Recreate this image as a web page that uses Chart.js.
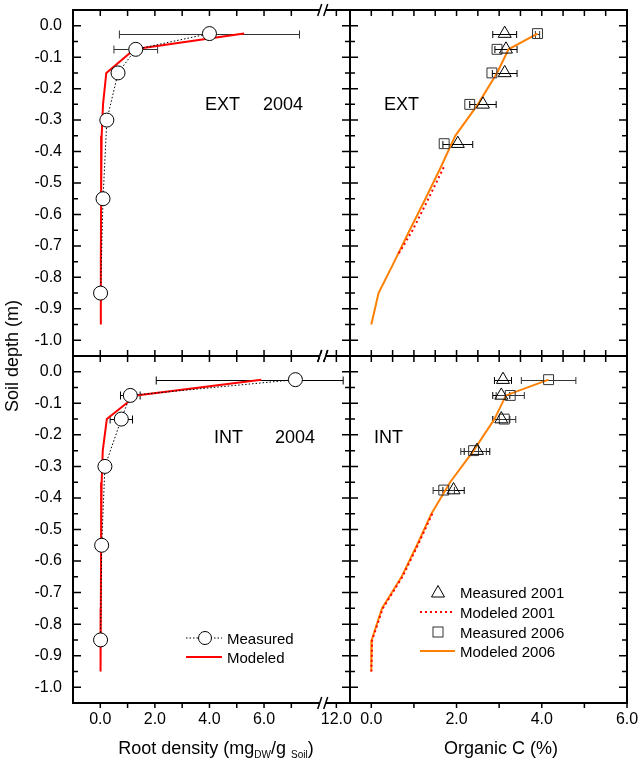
<!DOCTYPE html>
<html>
<head>
<meta charset="utf-8">
<title>Root density and organic C profiles</title>
<script src="https://cdn.jsdelivr.net/npm/chart.js@4.4.1/dist/chart.umd.min.js"></script>
<style>
  html, body { margin: 0; padding: 0; background: #fff; }
  #wrap { position: relative; width: 644px; height: 761px; overflow: hidden;
          font-family: 'Liberation Sans', Arial, sans-serif; color: #000; }
  #wrap canvas { position: absolute; left: 0; top: 0; }
  .txt { position: absolute; white-space: nowrap; line-height: 1; transform: translateY(-50%); }
  .ctr { transform: translate(-50%, -50%); }
  .note { font-size: 18px; }
  .leg { font-size: 15px; }
  .title { font-size: 18px; }
  sub { font-size: 10px; vertical-align: -4px; line-height: 0; }
  svg { position: absolute; overflow: visible; }
</style>
</head>
<body>
<div id="wrap">
  <canvas id="chartTL" width="644" height="761"></canvas>
  <canvas id="chartTR" width="644" height="761"></canvas>
  <canvas id="chartBL" width="644" height="761"></canvas>
  <canvas id="chartBR" width="644" height="761"></canvas>

  <!-- panel notes -->
  <div class="txt note" style="left:205px; top:104px">EXT</div>
  <div class="txt note" style="left:263px; top:104px">2004</div>
  <div class="txt note" style="left:384px; top:104px">EXT</div>
  <div class="txt note" style="left:214px; top:437px">INT</div>
  <div class="txt note" style="left:275px; top:437px">2004</div>
  <div class="txt note" style="left:374px; top:437px">INT</div>

  <!-- legends -->
  <svg style="left:180px; top:626px" width="50" height="40">
    <line x1="6" y1="12" x2="42" y2="12" stroke="#000" stroke-width="1" stroke-dasharray="1.5 2"/>
    <circle cx="25" cy="12" r="6.5" fill="#fff" stroke="#000" stroke-width="1"/>
    <line x1="6" y1="31" x2="42" y2="31" stroke="#f00" stroke-width="2"/>
  </svg>
  <div class="txt leg" style="left:227px; top:638px">Measured</div>
  <div class="txt leg" style="left:227px; top:657px">Modeled</div>

  <svg style="left:415px; top:580px" width="45" height="80">
    <polygon points="23,5.5 16.5,17 29.5,17" fill="none" stroke="#000" stroke-width="1"/>
    <line x1="5" y1="32" x2="40" y2="32" stroke="#f00" stroke-width="2" stroke-dasharray="2 3"/>
    <rect x="18" y="47" width="10" height="10" fill="none" stroke="#333" stroke-width="1"/>
    <line x1="5" y1="71" x2="40" y2="71" stroke="#ff8000" stroke-width="2"/>
  </svg>
  <div class="txt leg" style="left:460px; top:592px">Measured 2001</div>
  <div class="txt leg" style="left:460px; top:612px">Modeled 2001</div>
  <div class="txt leg" style="left:460px; top:632px">Measured 2006</div>
  <div class="txt leg" style="left:460px; top:651px">Modeled 2006</div>

  <!-- axis titles -->
  <div class="txt title ctr" style="left:12px; top:356px; transform: translate(-50%, -50%) rotate(-90deg)">Soil depth (m)</div>
  <div class="txt title ctr" style="left:216px; top:748px">Root density (mg<sub>DW</sub>/g <sub>Soil</sub>)</div>
  <div class="txt title ctr" style="left:501px; top:748px">Organic C (%)</div>
</div>

<script>
// ---------- data ----------
// root density, measured (circles) at sampling depths
var depthRoot = [-0.025, -0.075, -0.15, -0.30, -0.55, -0.85];
var extRootMeas = [4.0, 1.3, 0.65, 0.24, 0.10, 0.01];
var extRootErr = [3.3, 0.8, 0.18, 0.10, 0, 0];
var intRootMeas = [7.15, 1.10, 0.77, 0.17, 0.05, 0.01];
var intRootErr = [5.1, 0.36, 0.41, 0.10, 0, 0];

// root density, modeled
var depthRootModel = [-0.025, -0.075, -0.15, -0.25, -0.35, -0.55, -0.75, -0.95];
var extRootModel = [5.27, 1.25, 0.22, 0.10, 0.05, 0.03, 0.02, 0.02];
var intRootModel = [5.9, 1.32, 0.24, 0.09, 0.05, 0.03, 0.02, 0.01];

// organic C, measured
var depthC = [-0.025, -0.075, -0.15, -0.25, -0.375];
var extC2001 = [3.13, 3.16, 3.13, 2.62, 2.03];
var extC2001Err = [0.28, 0.26, 0.29, 0.31, 0.35];
var extC2006 = [3.90, 2.95, 2.83, 2.31, 1.71];
var extC2006Err = [0.05, 0, 0, 0, 0];
var intC2001 = [3.09, 3.05, 3.05, 2.48, 1.93];
var intC2001Err = [0.2, 0.2, 0.2, 0.3, 0.25];
var intC2006 = [4.16, 3.26, 3.12, 2.40, 1.70];
var intC2006Err = [0.64, 0.33, 0.27, 0.3, 0.25];

// organic C, modeled
var depthCModel = [-0.025, -0.075, -0.15, -0.25, -0.35, -0.45, -0.55, -0.65, -0.75, -0.85, -0.95];
var extC2006Model = [3.90, 3.22, 2.95, 2.50, 1.97, 1.63, 1.27, 0.90, 0.54, 0.17, 0.0];
var intC2006Model = [4.16, 3.16, 2.89, 2.40, 1.85, 1.41, 1.07, 0.71, 0.25, 0.01, 0.0];
var extDepth2001Model = [-0.45, -0.55, -0.65, -0.725];
var extC2001Model = [1.70, 1.34, 0.97, 0.64];
var intDepth2001Model = [-0.45, -0.55, -0.65, -0.75, -0.85, -0.95];
var intC2001Model = [1.43, 1.09, 0.73, 0.27, 0.02, 0.0];

// tick labels
var depthTicks = [0.0, -0.1, -0.2, -0.3, -0.4, -0.5, -0.6, -0.7, -0.8, -0.9, -1.0];
var rootTicks = [0, 2, 4, 6, 12];
var rootMarks = [0, 1, 2, 3, 4, 5, 6, 7, 12];
var carbonTicks = [0, 2, 4, 6];
var carbonMarks = [0, 1, 2, 3, 4, 5, 6];
var carbonHalfMarks = [0, 0.5, 1, 1.5, 2, 2.5, 3, 3.5, 4, 4.5, 5, 5.5];

// ---------- broken root-density axis (gap between ~8.2 and ~11.5) ----------
var GAP_LO = 8.15, GAP_HI = 11.5;
var LinearScale = Chart.registry.getScale('linear');
class BrokenScale extends LinearScale {
	getPixelForValue(v) {
		var d = v > GAP_LO ? Math.max(GAP_LO, v - (GAP_HI - GAP_LO)) : v;
		return super.getPixelForValue(d);
	}
}
BrokenScale.id = 'broken';
BrokenScale.defaults = {};
Chart.register(BrokenScale);

Chart.defaults.font.family = "'Liberation Sans', Arial, sans-serif";
Chart.defaults.font.size = 16;
Chart.defaults.color = '#000';

function pts(xs, ys) {
	return xs.map(function(v, i) { return {x: v, y: ys[i]}; });
}

// frame, inward ticks, axis break and error bars
function deco(spec) {
	return {
		id: 'deco',
		beforeDatasetsDraw: function(chart) {
			var ctx = chart.ctx, x = chart.scales.x, y = chart.scales.y;
			ctx.save();
			ctx.lineWidth = 1;
			spec.bars.forEach(function(b) {
				ctx.strokeStyle = b.color;
				b.x.forEach(function(v, i) {
					var e = b.err[i];
					if (!e) return;
					var py = Math.round(y.getPixelForValue(b.y[i])) + 0.5;
					var x0 = x.getPixelForValue(v - e), x1 = x.getPixelForValue(v + e);
					ctx.beginPath();
					ctx.moveTo(x0, py); ctx.lineTo(x1, py);
					ctx.moveTo(x0, py - b.cap / 2); ctx.lineTo(x0, py + b.cap / 2);
					ctx.moveTo(x1, py - b.cap / 2); ctx.lineTo(x1, py + b.cap / 2);
					ctx.stroke();
				});
			});
			ctx.restore();
		},
		afterDraw: function(chart) {
			var ctx = chart.ctx, a = chart.chartArea, x = chart.scales.x, y = chart.scales.y;
			ctx.save();
			ctx.strokeStyle = '#000';
			ctx.lineWidth = 1.5;
			ctx.beginPath();
			// depth ticks, major every 0.1, minor between
			depthTicks.forEach(function(v, k) {
				var py = y.getPixelForValue(v);
				ctx.moveTo(a.left, py); ctx.lineTo(a.left + 8, py);
				ctx.moveTo(a.right, py); ctx.lineTo(a.right - 8, py);
				if (k < depthTicks.length - 1) {
					var pm = y.getPixelForValue(v - 0.05);
					ctx.moveTo(a.left, pm); ctx.lineTo(a.left + 5, pm);
					ctx.moveTo(a.right, pm); ctx.lineTo(a.right - 5, pm);
				}
			});
			spec.topMarks.forEach(function(v) {
				var px = x.getPixelForValue(v);
				ctx.moveTo(px, a.top); ctx.lineTo(px, a.top + 6);
			});
			spec.bottomMarks.forEach(function(v) {
				var px = x.getPixelForValue(v);
				ctx.moveTo(px, a.bottom);
				ctx.lineTo(px, spec.outside ? a.bottom + 5 : a.bottom - 6);
			});
			ctx.stroke();
			ctx.lineWidth = 2;
			ctx.strokeRect(a.left, a.top, a.right - a.left, a.bottom - a.top);
			if (spec.breakAt != null) {
				var bx = x.getPixelForValue(spec.breakAt);
				[a.top, a.bottom].forEach(function(by) {
					ctx.fillStyle = '#fff';
					ctx.fillRect(bx - 3, by - 2, 6, 4);
					ctx.lineWidth = 1.5;
					ctx.beginPath();
					ctx.moveTo(bx - 5, by + 6); ctx.lineTo(bx - 1, by - 6);
					ctx.moveTo(bx + 1, by + 6); ctx.lineTo(bx + 5, by - 6);
					ctx.stroke();
				});
			}
			ctx.restore();
		}
	};
}

function fmt(v) { return Number(v).toFixed(1); }

function depthAxis(show) {
	return {
		type: 'linear', position: 'left', display: show,
		min: -1.05, max: 0.05,
		grid: {display: false, drawTicks: false}, border: {display: false},
		ticks: {autoSkip: false, padding: 11, callback: fmt},
		afterBuildTicks: function(s) { s.ticks = depthTicks.map(function(v) { return {value: v}; }); },
		afterFit: function(s) { s.width = show ? 73 : 0; s.paddingTop = 0; s.paddingBottom = 0; }
	};
}

function valueAxis(type, min, max, ticks, show) {
	return {
		type: type, position: 'bottom', display: show,
		min: min, max: max,
		grid: {display: false, drawTicks: false}, border: {display: false},
		ticks: {autoSkip: false, maxRotation: 0, padding: 7, callback: fmt},
		afterBuildTicks: function(s) { s.ticks = ticks.map(function(v) { return {value: v}; }); },
		afterFit: function(s) { s.height = show ? 58 : 0; s.paddingLeft = 0; s.paddingRight = 0; }
	};
}

function makePanel(id, datasets, scales, padding, spec) {
	return new Chart(document.getElementById(id), {
		type: 'scatter',
		data: {datasets: datasets},
		options: {
			responsive: false,
			animation: false,
			events: [],
			layout: {autoPadding: false, padding: padding},
			plugins: {legend: {display: false}, tooltip: {enabled: false}},
			scales: scales
		},
		plugins: [deco(spec)]
	});
}

function measuredRoot(xs) {
	return {
		data: pts(xs, depthRoot), showLine: true, order: 0,
		borderColor: '#000', borderWidth: 1, borderDash: [1.5, 2],
		pointStyle: 'circle', pointRadius: 7,
		pointBackgroundColor: '#fff', pointBorderColor: '#000', pointBorderWidth: 1
	};
}
function modeledRoot(xs) {
	return {
		data: pts(xs, depthRootModel), showLine: true, order: 1,
		borderColor: '#f00', borderWidth: 2, pointRadius: 0
	};
}
function carbonSets(c01, c06, dep01, m01, m06) {
	return [
		{data: pts(c01, depthC), order: 0, pointStyle: 'triangle', pointRadius: 7.5,
		 pointBackgroundColor: 'rgba(0,0,0,0)', pointBorderColor: '#000', pointBorderWidth: 1},
		{data: pts(c06, depthC), order: 1, pointStyle: 'rect', pointRadius: 7,
		 pointBackgroundColor: 'rgba(0,0,0,0)', pointBorderColor: '#333', pointBorderWidth: 1},
		{data: pts(m01, dep01), showLine: true, order: 2,
		 borderColor: '#f00', borderWidth: 2, borderDash: [2, 3], pointRadius: 0},
		{data: pts(m06, depthCModel), showLine: true, order: 3,
		 borderColor: '#ff8000', borderWidth: 2, pointRadius: 0}
	];
}

// top left: EXT root density
makePanel('chartTL',
	[measuredRoot(extRootMeas), modeledRoot(extRootModel)],
	{x: valueAxis('broken', -1, 9.15, rootTicks, false), y: depthAxis(true)},
	{left: 0, top: 10, right: 294, bottom: 405},
	{topMarks: rootMarks, bottomMarks: rootMarks, outside: false, breakAt: GAP_LO,
	 bars: [{x: extRootMeas, y: depthRoot, err: extRootErr, cap: 8, color: '#333'}]});

// top right: EXT organic C
makePanel('chartTR',
	carbonSets(extC2001, extC2006, extDepth2001Model, extC2001Model, extC2006Model),
	{x: valueAxis('linear', -0.5, 6, carbonTicks, false), y: depthAxis(false)},
	{left: 350, top: 10, right: 17, bottom: 405},
	{topMarks: carbonHalfMarks, bottomMarks: carbonHalfMarks, outside: false, breakAt: null,
	 bars: [{x: extC2001, y: depthC, err: extC2001Err, cap: 7, color: '#000'},
	        {x: extC2006, y: depthC, err: extC2006Err, cap: 7, color: '#333'}]});

// bottom left: INT root density
makePanel('chartBL',
	[measuredRoot(intRootMeas), modeledRoot(intRootModel)],
	{x: valueAxis('broken', -1, 9.15, rootTicks, true), y: depthAxis(true)},
	{left: 0, top: 356, right: 294, bottom: 0},
	{topMarks: rootMarks, bottomMarks: rootMarks, outside: true, breakAt: GAP_LO,
	 bars: [{x: intRootMeas, y: depthRoot, err: intRootErr, cap: 8, color: '#000'}]});

// bottom right: INT organic C
makePanel('chartBR',
	carbonSets(intC2001, intC2006, intDepth2001Model, intC2001Model, intC2006Model),
	{x: valueAxis('linear', -0.5, 6, carbonTicks, true), y: depthAxis(false)},
	{left: 350, top: 356, right: 17, bottom: 0},
	{topMarks: carbonHalfMarks, bottomMarks: carbonMarks, outside: true, breakAt: null,
	 bars: [{x: intC2001, y: depthC, err: intC2001Err, cap: 7, color: '#000'},
	        {x: intC2006, y: depthC, err: intC2006Err, cap: 7, color: '#333'}]});
</script>
</body>
</html>
